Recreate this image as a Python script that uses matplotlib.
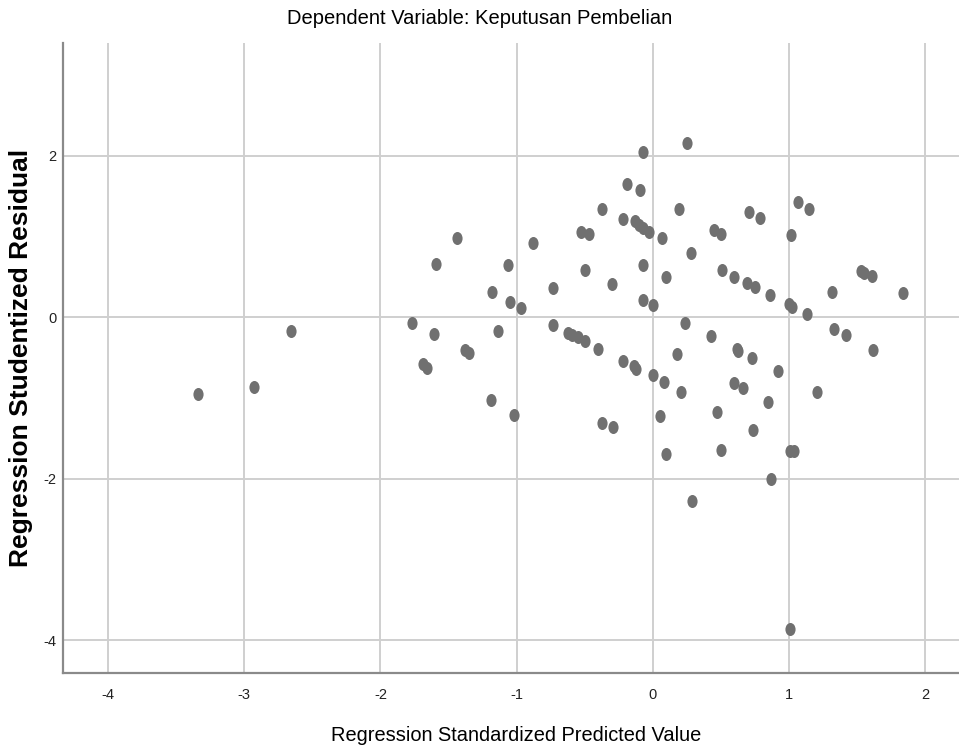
import matplotlib
matplotlib.use("Agg")
import matplotlib.pyplot as plt
from matplotlib.path import Path
from matplotlib.transforms import Affine2D
from matplotlib import font_manager

# ---- data ----
pred = [-3.34, -2.93, -2.66, -1.77, -1.61, -1.59, -1.44, -1.38, -1.35, -1.69,
        -1.66, -1.19, -1.02, -1.18, -1.14, -1.06, -1.05, -0.97, -0.88, -0.73,
        -0.73, -0.62, -0.59, -0.55, -0.50, -0.40, -0.53, -0.47, -0.50, -0.37,
        -0.30, -0.22, -0.22, -0.19, -0.13, -0.10, -0.075, -0.03, -0.09, -0.07,
        -0.07, -0.07, -0.135, -0.12, -0.37, -0.29, 0.00, 0.00, 0.065, 0.10,
        0.08, 0.05, 0.10, 0.18, 0.19, 0.21, 0.24, 0.25, 0.28, 0.29,
        0.43, 0.45, 0.50, 0.51, 0.60, 0.47, 0.50, 0.60, 0.66, 0.62,
        0.63, 0.69, 0.71, 0.73, 0.75, 0.74, 0.79, 0.86, 0.85, 0.87,
        0.92, 1.00, 1.02, 1.015, 1.01, 1.04, 1.01, 1.07, 1.15, 1.13,
        1.21, 1.32, 1.33, 1.42, 1.53, 1.55, 1.61, 1.62, 1.84]
resid = [-0.95, -0.86, -0.17, -0.07, -0.21, 0.66, 0.98, -0.41, -0.44, -0.58,
         -0.63, -1.02, -1.21, 0.31, -0.17, 0.64, 0.19, 0.12, 0.92, 0.36,
         -0.10, -0.19, -0.22, -0.25, -0.30, -0.39, 1.06, 1.03, 0.59, 1.34,
         0.41, 1.21, -0.54, 1.65, 1.19, 1.14, 1.10, 1.05, 1.57, 2.04,
         0.65, 0.21, -0.61, -0.64, -1.31, -1.36, -0.72, 0.15, 0.98, 0.50,
         -0.80, -1.22, -1.69, -0.45, 1.34, -0.92, -0.07, 2.16, 0.80, -2.28,
         -0.23, 1.08, 1.03, 0.58, 0.50, -1.17, -1.64, -0.82, -0.88, -0.39,
         -0.42, 0.42, 1.30, -0.50, 0.37, -1.40, 1.23, 0.28, -1.05, -2.00,
         -0.66, 0.16, 0.13, 1.02, -1.65, -1.65, -3.86, 1.42, 1.34, 0.04,
         -0.92, 0.31, -0.15, -0.22, 0.57, 0.55, 0.51, -0.41, 0.30]

x_ticks = [-4, -3, -2, -1, 0, 1, 2]
y_ticks = [-4, -2, 0, 2]
title = "Dependent Variable: Keputusan Pembelian"
xlabel = "Regression Standardized Predicted Value"
ylabel = "Regression Studentized Residual"

# ---- fonts ----
names = {f.name for f in font_manager.fontManager.ttflist}
narrow = "Liberation Sans Narrow" if "Liberation Sans Narrow" in names else "Liberation Sans"

fig = plt.figure(figsize=(9.59, 7.56), dpi=100)
ax = fig.add_axes([0.066, 0.1102, 0.934, 0.8325])

# elliptical marker (reference dots are taller than wide)
ell = Path.unit_circle().transformed(Affine2D().scale(0.78, 1.0))
ax.scatter(pred, resid, marker=ell, s=88, color="#707070", linewidths=0, zorder=3)

ax.set_xlim(-4.33, 2.25)
ax.set_ylim(-4.40, 3.39)
ax.set_xticks(x_ticks)
ax.set_yticks(y_ticks)
ax.set_xticklabels([str(t) for t in x_ticks], family=narrow, fontsize=10.5, color="#222222")
ax.set_yticklabels([str(t) for t in y_ticks], family=narrow, fontsize=10.5, color="#222222")
ax.tick_params(axis="x", length=0, pad=11)
ax.tick_params(axis="y", length=0, pad=5)

ax.grid(True, color="#cfcfcf", linewidth=1.4, zorder=0)
ax.set_axisbelow(True)
for s in ["top", "right"]:
    ax.spines[s].set_visible(False)
for s in ["left", "bottom"]:
    ax.spines[s].set_color("#8a8a8a")
    ax.spines[s].set_linewidth(1.6)

fig.text(0.5, 0.975, title, ha="center", va="center", family=narrow, fontsize=14.5, color="black")
fig.text(0.538, 0.027, xlabel, ha="center", va="center", family=narrow, fontsize=14.4, color="black")
fig.text(0.022, 0.526, ylabel, ha="center", va="center", rotation=90,
         family="Liberation Sans", fontweight="bold", fontsize=19, color="black")

fig.savefig("out.png", dpi=100)
